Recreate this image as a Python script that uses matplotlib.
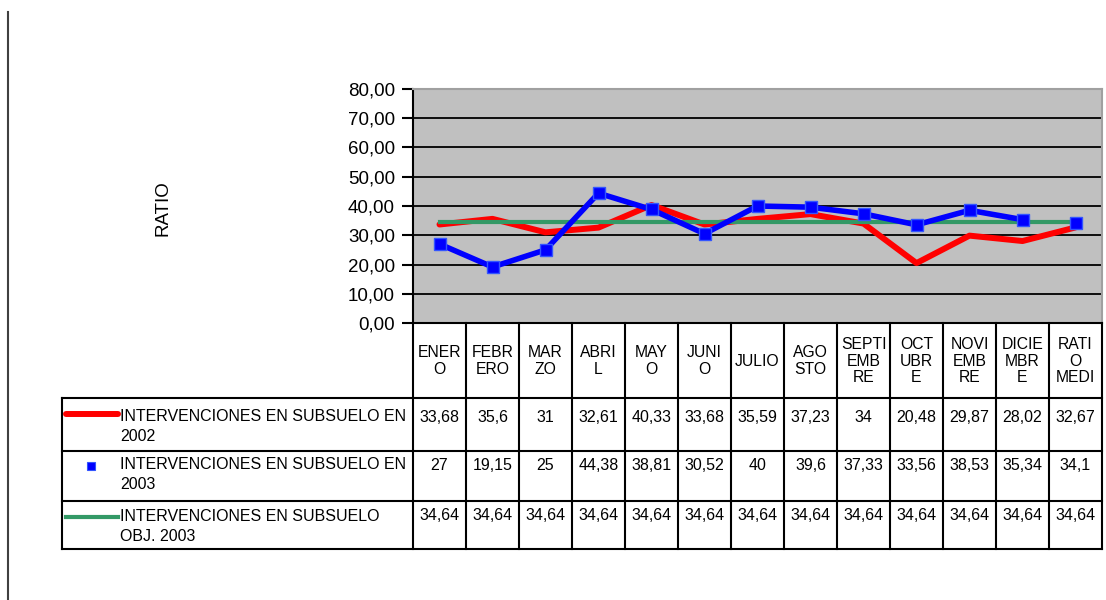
import matplotlib
matplotlib.use('Agg')
import matplotlib.pyplot as plt
from matplotlib.lines import Line2D
from matplotlib.transforms import blended_transform_factory
import numpy as np

# ---------------- data ----------------
categories = ["ENER\nO", "FEBR\nERO", "MAR\nZO", "ABRI\nL", "MAY\nO", "JUNI\nO", "JULIO",
              "AGO\nSTO", "SEPTI\nEMB\nRE", "OCT\nUBR\nE", "NOVI\nEMB\nRE", "DICIE\nMBR\nE",
              "RATI\nO\nMEDI"]
s2002 = [33.68, 35.6, 31, 32.61, 40.33, 33.68, 35.59, 37.23, 34, 20.48, 29.87, 28.02, 32.67]
s2003 = [27, 19.15, 25, 44.38, 38.81, 30.52, 40, 39.6, 37.33, 33.56, 38.53, 35.34, 34.1]
obj2003 = [34.64, 34.64, 34.64, 34.64, 34.64, 34.64, 34.64, 34.64, 34.64, 34.64, 34.64, 34.64, 34.64]
series_names = ["INTERVENCIONES EN SUBSUELO EN\n2002",
                "INTERVENCIONES EN SUBSUELO EN\n2003",
                "INTERVENCIONES EN SUBSUELO\nOBJ. 2003"]
yticks = [0, 10, 20, 30, 40, 50, 60, 70, 80]
ylabel = "RATIO"

RED, BLUE, GREEN = "#FF0000", "#0000FF", "#339966"
SANS = ["Liberation Sans", "DejaVu Sans"]

def fmt(v):
    return f"{v:g}".replace(".", ",")

# ---------------- figure ----------------
W, H = 1106, 600
fig = plt.figure(figsize=(W / 100, H / 100), dpi=100)
L, R, T, B = 413, 1102, 89, 323
ax = fig.add_axes([L / W, 1 - B / H, (R - L) / W, (B - T) / H])
ax.set_facecolor("#C0C0C0")
n = len(categories)
x = np.arange(n)
ax.set_xlim(-0.5, n - 0.5)
ax.set_ylim(yticks[0], yticks[-1])

for yv in yticks[1:-1]:
    ax.axhline(yv, color="black", lw=1.3, zorder=1)

ax.plot(x, s2002, color=RED, lw=4.3, zorder=2, solid_capstyle="round")
ax.plot(x, obj2003, color=GREEN, lw=3.0, zorder=3)
ax.plot(x[:-1], s2003[:-1], color=BLUE, lw=4.0, zorder=4)
ax.plot(x, s2003, ls="none", marker="s", ms=8, mfc=BLUE, mec="#3355FF", mew=1, zorder=5)

ax.set_xticks([])
ax.set_yticks(yticks)
ax.set_yticklabels([f"{v:.2f}".replace(".", ",") for v in yticks],
                   fontfamily=SANS, fontsize=13.5)
ax.tick_params(axis="y", direction="out", length=8, width=1.5, pad=5, colors="black")
ax.spines["left"].set_linewidth(1.5)
ax.spines["bottom"].set_linewidth(1.5)
ax.spines["top"].set_color("#A0A0A0")
ax.spines["right"].set_color("#A0A0A0")
ax.spines["top"].set_linewidth(1.5)
ax.spines["right"].set_linewidth(1.5)

fig.text(163 / W, 1 - 208 / H, ylabel, rotation=90, ha="center", va="center",
         fontsize=13.5, family=SANS)

# left border line of the original page
fig.add_artist(Line2D([8 / W, 8 / W], [1 - 12 / H, 0], transform=fig.transFigure,
                      color="#404040", lw=1.5))

# ---------------- data table ----------------
tr = blended_transform_factory(ax.transData, fig.transFigure)
colw = (R - L) / n
leg_left = -0.5 - (L - 62) / colw
fy = lambda py: 1 - py / H

row_lines = [398, 451, 501, 549]
for py in row_lines:
    fig.add_artist(Line2D([leg_left, n - 0.5], [fy(py), fy(py)], transform=tr,
                          color="black", lw=1.5))
for k in range(n + 1):
    fig.add_artist(Line2D([k - 0.5, k - 0.5], [fy(B), fy(549)], transform=tr,
                          color="black", lw=1.5))
fig.add_artist(Line2D([leg_left, leg_left], [fy(398), fy(549)], transform=tr,
                      color="black", lw=1.5))

for i, c in enumerate(categories):
    fig.text(i, fy(361), c, transform=tr, ha="center", va="center", fontsize=11.3,
             family=SANS, linespacing=1.12)

row_centers = [417, 466, 516]
for vals, yc in zip([s2002, s2003, obj2003], row_centers):
    for i, v in enumerate(vals):
        fig.text(i, fy(yc), fmt(v), transform=tr, ha="center", va="center",
                 fontsize=11.5, family=SANS)

# legend keys
lk0 = -0.5 - (L - 66) / colw
lk1 = -0.5 - (L - 118) / colw
lkm = -0.5 - (L - 91) / colw
fig.add_artist(Line2D([lk0, lk1], [fy(414), fy(414)], transform=tr, color=RED, lw=4.3,
                      solid_capstyle="round"))
fig.add_artist(Line2D([lkm], [fy(466)], transform=tr, ls="none", marker="s", ms=5.5,
                      mfc=BLUE, mec="#3355FF", mew=0.8))
fig.add_artist(Line2D([lk0, lk1], [fy(517), fy(517)], transform=tr, color=GREEN, lw=3.0))

ltx = -0.5 - (L - 120) / colw
for name, yc in zip(series_names, [418, 466, 518]):
    fig.text(ltx, fy(yc - 9), name, transform=tr, ha="left", va="top", fontsize=11.5,
             family=SANS, linespacing=1.4)

fig.savefig("out.png", dpi=100)
